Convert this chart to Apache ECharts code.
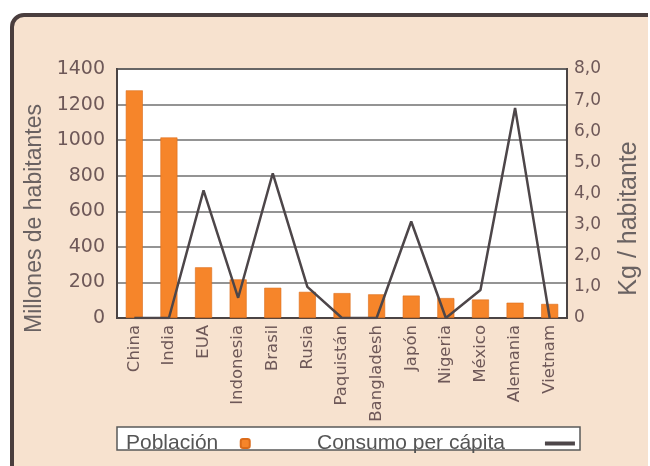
<!DOCTYPE html>
<html>
<head>
<meta charset="utf-8">
<style>
  html, body { margin: 0; padding: 0; background: #ffffff; }
  #chart { width: 650px; height: 466px; }
</style>
<script src="https://cdn.jsdelivr.net/npm/echarts@6/dist/echarts.min.js"></script>
</head>
<body>
<div id="chart"></div>
<script>
// Countries, population (millions) and per-capita consumption (kg)
const countries = ['China', 'India', 'EUA', 'Indonesia', 'Brasil', 'Rusia', 'Paquistán',
  'Bangladesh', 'Japón', 'Nigeria', 'México', 'Alemania', 'Vietnam'];
const poblacion = [1280, 1015, 285, 217, 170, 147, 140, 133, 126, 112, 104, 86, 79];
const consumo = [0, 0, 4.1, 0.65, 4.65, 1.0, 0, 0, 3.1, 0, 0.9, 6.75, 0];

const tickColor = '#6e5858';
const frameColor = '#4a3e3e';
const peach = '#f7e2cf';

const chart = echarts.init(document.getElementById('chart'));

chart.setOption({
  backgroundColor: '#ffffff',
  animation: false,
  graphic: [
    // card background with a rounded top-left corner
    { type: 'rect', z: -10, shape: { x: 12, y: 15, width: 636, height: 460, r: [12, 0, 0, 0] },
      style: { fill: peach } },
    { type: 'line', z: -9, shape: { x1: 12, y1: 27, x2: 12, y2: 470 },
      style: { stroke: frameColor, lineWidth: 4 } },
    { type: 'line', z: -9, shape: { x1: 24, y1: 15, x2: 648, y2: 15 },
      style: { stroke: frameColor, lineWidth: 4 } },
    { type: 'arc', z: -9, shape: { cx: 24, cy: 27, r: 12, startAngle: Math.PI, endAngle: Math.PI * 1.5 },
      style: { stroke: frameColor, lineWidth: 4, fill: null } },
    // legend box
    { type: 'rect', z: -5, shape: { x: 117, y: 427, width: 463, height: 23 },
      style: { fill: '#ffffff', stroke: '#5a5a5a', lineWidth: 1.5 } }
  ],
  legend: [
    {
      data: ['Población'],
      left: 121, top: 428,
      align: 'right',
      itemWidth: 9, itemHeight: 9,
      formatter: name => name + '   ',
      textStyle: { fontFamily: 'Liberation Sans', fontSize: 21, color: '#555555' }
    },
    {
      data: [{ name: 'Consumo per cápita', icon: 'rect' }],
      left: 312, top: 428,
      align: 'right',
      itemWidth: 30, itemHeight: 4,
      formatter: name => name + '      ',
      textStyle: { fontFamily: 'Liberation Sans', fontSize: 21, color: '#555555' }
    }
  ],
  grid: {
    left: 117, right: 72, top: 69, bottom: 148,
    show: true, backgroundColor: '#ffffff',
    borderColor: '#4b4444', borderWidth: 2
  },
  xAxis: {
    type: 'category',
    data: countries,
    axisTick: { show: false },
    axisLine: { lineStyle: { color: '#4b4444', width: 2 } },
    axisLabel: {
      interval: 0, rotate: 90, margin: 7,
      fontFamily: 'DejaVu Sans', fontSize: 16.5, color: tickColor
    }
  },
  yAxis: [
    {
      type: 'value', min: 0, max: 1400, interval: 200,
      name: 'Millones de habitantes',
      nameLocation: 'middle', nameRotate: 90, nameGap: 53,
      nameTextStyle: { fontFamily: 'Liberation Sans', fontSize: 23, color: '#6a6262', padding: [0, 50, 0, 0] },
      axisLine: { show: true, lineStyle: { color: '#4b4444', width: 2 } },
      axisTick: { show: false },
      axisLabel: {
        margin: 12, fontFamily: 'DejaVu Sans', fontSize: 19, color: tickColor,
        formatter: v => String(v)
      },
      splitLine: { lineStyle: { color: '#707070', width: 1.5 } }
    },
    {
      type: 'value', min: 0, max: 8, interval: 1, position: 'right',
      name: 'Kg / habitante',
      nameLocation: 'middle', nameRotate: 90, nameGap: 50,
      nameTextStyle: { fontFamily: 'Liberation Sans', fontSize: 25, color: '#6a6262', padding: [0, 50, 0, 0] },
      axisLine: { show: true, lineStyle: { color: '#4b4444', width: 2 } },
      axisTick: { show: false },
      axisLabel: {
        margin: 7, fontFamily: 'DejaVu Sans', fontSize: 17, color: tickColor,
        formatter: v => v === 0 ? '0' : v.toFixed(1).replace('.', ',')
      },
      splitLine: { show: false }
    }
  ],
  series: [
    {
      name: 'Población',
      type: 'bar',
      yAxisIndex: 0,
      data: poblacion,
      barWidth: 17,
      itemStyle: { color: '#f6852a', borderColor: '#dc6c1a', borderWidth: 0.6 }
    },
    {
      name: 'Consumo per cápita',
      type: 'line',
      yAxisIndex: 1,
      data: consumo,
      symbol: 'none',
      z: 5,
      itemStyle: { color: '#4d4649' },
      lineStyle: { color: '#4d4649', width: 2.5 }
    }
  ]
});
</script>
</body>
</html>
